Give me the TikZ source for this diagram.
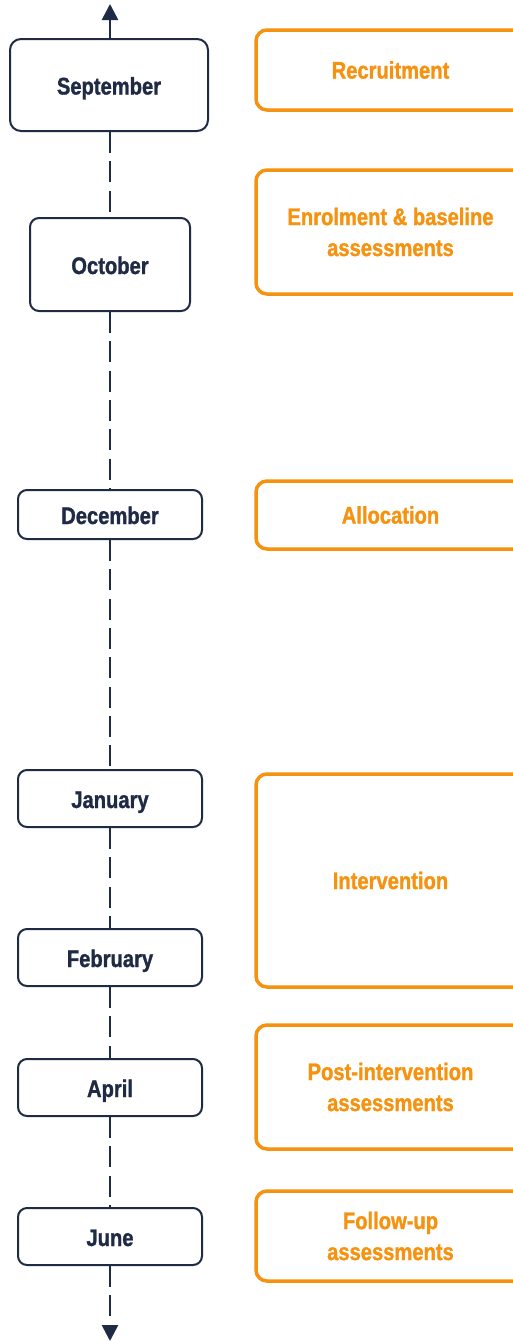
\documentclass[tikz,border=0pt]{standalone}
\usepackage{fontspec}
\setmainfont{Liberation Sans}[FakeStretch=0.85, BoldFeatures={FakeStretch=0.84, FakeBold=1.2}]
\usetikzlibrary{arrows.meta}
\definecolor{navy}{HTML}{1F2A44}
\definecolor{orng}{HTML}{F5920F}
\tikzset{
  month/.style={draw=navy, line width=2pt, rounded corners=9pt, fill=white,
    text=navy, font=\fontsize{24}{31}\selectfont\bfseries, inner sep=0pt, align=center,
    text height=19pt, text depth=0pt},
  phase/.style={draw=orng, line width=3.5pt, rounded corners=11pt,
    text=orng, font=\fontsize{24}{31}\selectfont\bfseries, inner sep=0pt, align=center,
    minimum width=269pt},
  tl/.style={draw=navy, line width=2.6pt},
  tldash/.style={tl, dash pattern=on 21pt off 8.3pt},
  tip/.style={-{Triangle[width=16pt,length=16pt]}}
}
\begin{document}
\begin{tikzpicture}[x=1pt,y=-1pt]
\useasboundingbox (0,0) rectangle (513,1342);
\clip (0,0) rectangle (513,1342);
% month boxes
\node[month, minimum width=198pt, minimum height=92pt, rounded corners=11pt] (sep) at (109,85) {September};
\node[month, minimum width=160pt, minimum height=93pt] (oct) at (110,264.5) {October};
\node[month, minimum width=184pt, minimum height=49pt] (dec) at (110,514.5) {December};
\node[month, minimum width=184pt, minimum height=57pt] (jan) at (110,798.5) {January};
\node[month, minimum width=184pt, minimum height=57pt] (feb) at (110,957.5) {February};
\node[month, minimum width=184pt, minimum height=57pt] (apr) at (110,1087.5) {April};
\node[month, minimum width=184pt, minimum height=57pt] (jun) at (110,1236.5) {June};
\coordinate (top) at (110,4);
\coordinate (bot) at (110,1341);
% timeline
\draw[tl, tip] (sep.north -| top) -- (top);
\draw[tldash] (sep.south -| top) -- (oct.north);
\draw[tldash] (oct.south) -- (dec.north);
\draw[tldash] (dec.south) -- (jan.north);
\draw[tldash] (jan.south) -- (feb.north);
\draw[tldash] (feb.south) -- (apr.north);
\draw[tldash] (apr.south) -- (jun.north);
\draw[tldash, tip] (jun.south) -- (bot);
% phase boxes
\node[phase, minimum height=80pt] (rec) at (390.5,70) {Recruitment};
\node[phase, minimum height=124pt] (enr) at (390.5,232) {Enrolment \& baseline\\assessments};
\node[phase, minimum height=68pt] (alo) at (390.5,515) {Allocation};
\node[phase, minimum height=213pt] (int) at (390.5,880.5) {Intervention};
\node[phase, minimum height=124pt] (post) at (390.5,1087) {Post-intervention\\assessments};
\node[phase, minimum height=90pt] (fol) at (390.5,1236) {Follow-up\\assessments};
\end{tikzpicture}
\end{document}
